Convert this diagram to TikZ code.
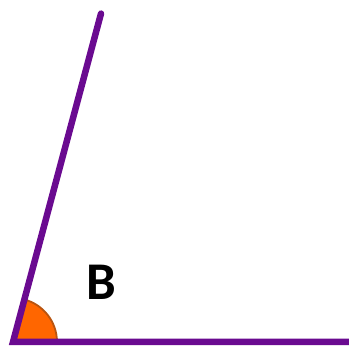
\documentclass[tikz,border=0pt]{standalone}
\usepackage{fontspec}
\setmainfont{Carlito}
\usepackage{tikz}
\usetikzlibrary{calc}
\definecolor{rayPurple}{HTML}{6A0A90}
\definecolor{angleFill}{HTML}{FF6600}
\definecolor{angleEdge}{HTML}{B85410}

\begin{document}
\begin{tikzpicture}[
        x=1pt, y=1pt,
        ray/.style={draw=rayPurple, line width=6.5pt, line cap=round},
        anglemark/.style={fill=angleFill, draw=angleEdge, line width=1.8pt},
        anglelabel/.style={font=\bfseries\fontsize{53}{56}\selectfont, text=black}
    ]
        \useasboundingbox (0,0) rectangle (349,346);
        % --- vertex and ray ends ---
        \coordinate (vB) at (13,4);
        \coordinate (rayUp) at ($(vB)+(75:340)$);
        \coordinate (rayRight) at (352,4);

        % --- angle sector ---
        \draw[anglemark] (vB) -- ++(0:44) arc[start angle=0, end angle=75, radius=44] -- cycle;

        % --- rays ---
        \draw[ray] (rayUp) -- (vB) -- (rayRight);

        \node[anglelabel] (lblB) at (101,64) {B};
    \end{tikzpicture}
\end{document}
